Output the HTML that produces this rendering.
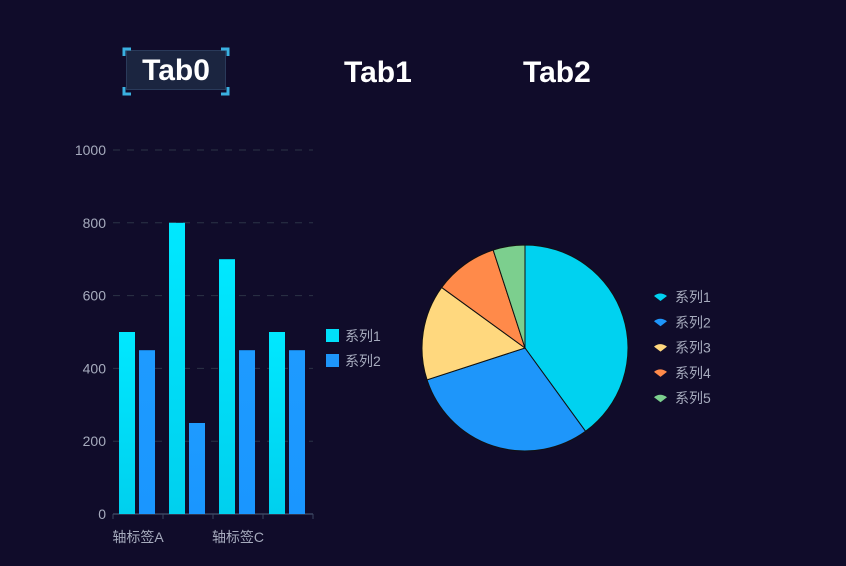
<!DOCTYPE html>
<html><head><meta charset="utf-8"><style>
body{margin:0;width:846px;height:566px;background:#100c2a;overflow:hidden;font-family:"Liberation Sans","Noto Sans CJK SC",sans-serif}
.tab{position:absolute;top:54px;font-weight:bold;font-size:30px;color:#fff;line-height:38px}
</style></head><body>
<div class="tab" style="left:126px;width:100px;height:40px;top:50px;background:#1b2540;border:1px solid #2a3a5a;box-sizing:border-box;text-align:center;line-height:40px">Tab0</div>
<svg style="position:absolute;left:0;top:0" width="846" height="566">
<g stroke="#3ab0e0" stroke-width="3" fill="none">
<path d="M124 56 V49 H131"/><path d="M221 49 H228 V56"/><path d="M124 87 V94 H131"/><path d="M221 94 H228 V87"/>
</g></svg>
<div class="tab" style="left:344px">Tab1</div>
<div class="tab" style="left:523px">Tab2</div>
<svg id="chart" style="position:absolute;left:0;top:0" width="846" height="566">
<defs>
<linearGradient id="g1" x1="0" y1="0" x2="0" y2="1"><stop offset="0" stop-color="#00e8ff"/><stop offset="1" stop-color="#00d0ee"/></linearGradient>
<linearGradient id="g2" x1="0" y1="0" x2="0" y2="1"><stop offset="0" stop-color="#1e9bff"/><stop offset="1" stop-color="#1a96ff"/></linearGradient>
</defs>
</svg>
<script>
const categories=['轴标签A','轴标签B','轴标签C','轴标签D'];
const series1=[500,800,700,500];
const series2=[450,250,450,450];
const yTicks=[0,200,400,600,800,1000];
const pieNames=['系列1','系列2','系列3','系列4','系列5'];
const pieValues=[40,30,15,10,5];
const pieColors=['#00d2f0','#1e96fa','#ffd87e','#ff8a4a','#7ccf8e'];
const NS='http://www.w3.org/2000/svg';
const svg=document.getElementById('chart');
function mk(t,a,p){const e=document.createElementNS(NS,t);for(const k in a)e.setAttribute(k,a[k]);(p||svg).appendChild(e);return e;}
const x0=113,x1=313,yB=514,yT=150,yMax=1000;
const y=v=>yB-(v/yMax)*(yB-yT);
const band=(x1-x0)/categories.length;
const cx=i=>x0+band*(i+0.5);
yTicks.forEach(t=>{
 if(t>0){const l=mk('line',{x1:x0,x2:x1,y1:y(t),y2:y(t),stroke:'#2b3346','stroke-dasharray':'7,7'});
 
 }
 const tx=mk('text',{x:106,y:y(t)+5,'text-anchor':'end',fill:'#a6abbd','font-size':14});
 tx.textContent=t;
 
 
});
const ax=mk('line',{x1:x0,x2:x1,y1:yB,y2:yB,stroke:'#3a4560','stroke-width':1.5});


for(let i=0;i<=categories.length;i++){const tk=mk('line',{x1:x0+band*i,x2:x0+band*i,y1:yB,y2:yB+5,stroke:'#3a4560'});
 
 }
categories.forEach((c,i)=>{
 const r1=mk('rect',{x:cx(i)-19,y:y(series1[i]),width:16,height:yB-y(series1[i]),fill:'url(#g1)'});
 
 
 const r2=mk('rect',{x:cx(i)+1,y:y(series2[i]),width:16,height:yB-y(series2[i]),fill:'url(#g2)'});
 
 
 if(i%2===0){const t=mk('text',{x:cx(i),y:542,'text-anchor':'middle',fill:'#a6abbd','font-size':14});
 t.textContent=c;
 
 }
});
[['系列1','#00e0fa'],['系列2','#1e96fa']].forEach((s,i)=>{
 const r=mk('rect',{x:326,y:329+i*25,width:13,height:13,fill:s[1]});
 
 
 const t=mk('text',{x:345,y:341+i*25,fill:'#a6abbd','font-size':14});
 t.textContent=s[0];
 
 
});
const pcx=525,pcy=348,R=103;
const tot=pieValues.reduce((a,b)=>a+b,0);
let ang=0;
pieValues.forEach((v,i)=>{
 const a0=ang,a1=ang+v/tot*Math.PI*2;ang=a1;
 const p=(a)=>[pcx+R*Math.sin(a),pcy-R*Math.cos(a)];
 const [sx,sy]=p(a0),[ex,ey]=p(a1);
 const s=mk('path',{d:`M${pcx},${pcy} L${sx},${sy} A${R},${R} 0 ${a1-a0>Math.PI?1:0} 1 ${ex},${ey} Z`,fill:pieColors[i],stroke:'#111',"stroke-width":1});
 
 
 const ly=297+i*25.3;
 const ic=mk('path',{d:`M654,${ly-1} Q660,${ly-6} 667,${ly-1} L660.5,${ly+4} Z`,fill:pieColors[i]});
 
 
 const t=mk('text',{x:675,y:ly+5,fill:'#a6abbd','font-size':14});
 t.textContent=pieNames[i];
 
 
});
</script>
</body></html>
